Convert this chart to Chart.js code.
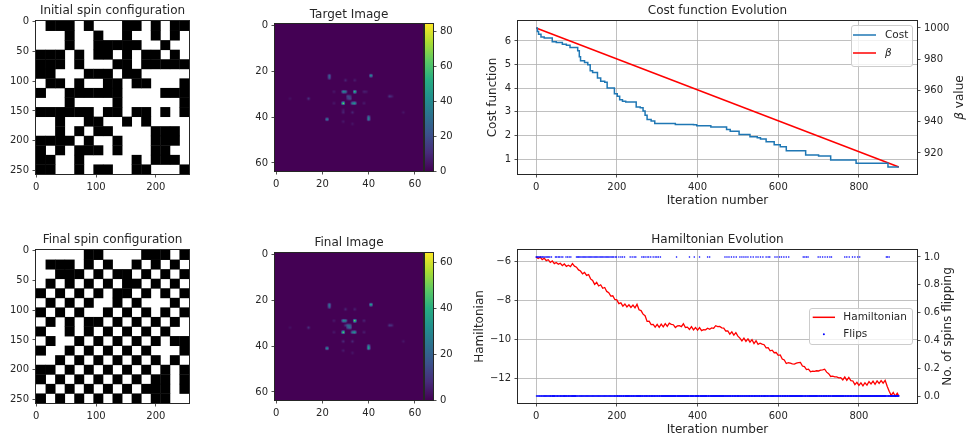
<!DOCTYPE html>
<html>
<head>
<meta charset="UTF-8">
<title>Spin annealing</title>
<script src="https://cdn.jsdelivr.net/npm/chart.js"></script>
<style>
  body { margin: 0; background: #fff; width: 967px; height: 442px; position: relative; overflow: hidden; }
  canvas { position: absolute; }
</style>
</head>
<body>
<canvas id="initSpin" width="200" height="212" style="left:0;top:0"></canvas>
<canvas id="targetImg" width="210" height="212" style="left:240px;top:0"></canvas>
<canvas id="targetBar" width="40" height="212" style="left:420px;top:0"></canvas>
<canvas id="costChart" width="497" height="215" style="left:470px;top:0"></canvas>
<canvas id="finalSpin" width="200" height="217" style="left:0;top:225px"></canvas>
<canvas id="finalImg" width="210" height="217" style="left:240px;top:225px"></canvas>
<canvas id="finalBar" width="40" height="217" style="left:420px;top:225px"></canvas>
<canvas id="hamChart" width="497" height="217" style="left:470px;top:225px"></canvas>

<script>
// ---- spin configurations (16x16 blocks of 16 px, 1 = black) ----
const spinTicksX = [0, 100, 200];
const spinTicksY = [0, 50, 100, 150, 200, 250];
const initialSpins = [
  [0,1,1,1,0,1,0,0,0,1,1,0,1,0,1,1],
  [0,0,0,1,0,0,1,0,0,1,0,0,1,0,1,0],
  [0,0,0,1,0,0,1,1,1,1,1,0,0,1,0,0],
  [1,1,1,0,1,0,1,1,0,1,0,1,1,0,1,0],
  [1,1,1,0,1,0,0,0,1,1,0,1,1,1,1,1],
  [1,1,0,0,0,1,1,1,0,1,1,0,0,0,0,0],
  [0,1,1,0,1,0,0,1,1,0,1,1,0,0,0,1],
  [1,0,0,1,1,1,1,1,1,0,0,0,0,1,1,1],
  [0,0,0,1,0,0,0,0,1,0,0,0,0,0,0,1],
  [1,1,1,1,1,1,0,1,1,0,1,1,0,1,0,1],
  [0,0,1,0,0,1,1,0,0,1,0,1,0,0,0,0],
  [0,0,1,0,1,0,1,1,0,0,0,0,1,1,1,0],
  [1,1,1,1,0,1,0,0,1,0,0,0,1,1,1,0],
  [1,0,1,0,1,1,1,0,1,0,0,0,1,1,0,0],
  [1,1,0,0,1,0,0,0,0,0,1,0,1,1,1,0],
  [1,1,0,0,1,0,1,1,0,0,1,1,0,0,0,1]
];
const finalSpins = [
  [0,0,0,0,0,1,1,0,0,0,0,1,1,1,0,1],
  [0,1,1,1,0,1,0,1,0,0,1,0,1,0,1,0],
  [0,0,1,1,1,0,1,0,1,1,0,1,0,1,0,1],
  [0,1,0,1,0,1,0,1,0,1,1,0,1,0,1,0],
  [1,0,1,0,1,0,1,0,1,1,0,1,0,1,0,1],
  [0,1,0,1,0,1,0,0,1,0,1,0,0,0,1,0],
  [1,0,1,0,1,0,0,1,0,1,0,1,0,1,0,1],
  [0,1,0,1,0,1,1,0,1,0,1,0,1,0,1,0],
  [1,0,0,1,0,1,0,1,0,1,0,1,0,1,0,0],
  [0,1,0,0,1,0,1,0,1,0,1,0,1,0,1,1],
  [1,0,0,1,0,1,0,1,0,1,0,1,0,0,0,1],
  [0,0,1,0,1,0,1,0,1,0,1,0,1,0,1,0],
  [1,1,0,1,0,1,0,1,0,1,0,1,0,1,0,1],
  [1,0,1,0,1,0,1,0,1,0,1,0,1,1,0,1],
  [0,1,0,1,0,1,0,1,0,1,0,1,1,1,0,1],
  [1,0,1,0,1,0,1,0,1,0,1,0,1,1,0,0]
];

// ---- 64x64 images: non-zero pixels (column, row, value) ----
const imgTicks = [0, 20, 40, 60];
const targetSpotX = [29,34,29,30,34,33,41,23,23,22,40,40,31,32,32,31,49,50,14,30,34,38,39,25,25,38,29,29,33,29,33,55,6];
const targetSpotY = [34,29,29,29,34,34,22,22,23,41,40,41,31,32,31,32,31,31,32,24,24,29,29,29,34,34,38,37,38,42,43,38,32];
const targetSpotV = [84,70,46,36,50,38,52,28,24,42,34,40,20,20,14,14,13, 8,12, 9, 7, 8, 6, 6, 6, 7, 9, 6, 9, 6, 5, 5, 4];
const targetBarTicks = [0, 20, 40, 60, 80];

const finalSpotX = [34,29,29,30,34,33,41,23,23,22,40,40,31,32,31,32,30,49,50,14,30,34,38,25,25,38,29,33,29,33,55,6];
const finalSpotY = [29,34,29,29,34,34,22,22,23,41,40,41,31,31,32,32,31,31,31,32,24,24,29,29,34,34,38,38,42,43,38,32];
const finalSpotV = [64,60,36,30,38,28,48,26,22,38,30,40,22,18,18,24,10,10, 8, 9, 7, 6, 7, 5, 5, 6, 8, 7, 5, 4, 4, 3];
const finalBarTicks = [0, 20, 40, 60];

// ---- cost function (stepped) and beta ----
const iterTicks = [0, 200, 400, 600, 800];
const costTicks = [1, 2, 3, 4, 5, 6];
const betaTicks = [920, 940, 960, 980, 1000];
const costIter  = [0, 3, 6, 12, 20, 40, 50, 65, 75, 84, 103, 107, 110, 120, 128, 134, 140, 152, 160, 170, 176, 194, 201, 207, 214, 222, 248, 258, 265, 270, 275, 285, 294, 345, 390, 398, 433, 472, 481, 503, 530, 548, 556, 570, 590, 605, 620, 668, 700, 730, 793, 872, 899];
const costValue = [6.55, 6.40, 6.28, 6.17, 6.12, 5.97, 5.93, 5.86, 5.82, 5.72, 5.58, 5.33, 5.16, 5.09, 4.99, 4.74, 4.66, 4.43, 4.29, 4.25, 4.01, 3.76, 3.66, 3.51, 3.45, 3.41, 3.20, 3.17, 3.03, 2.85, 2.67, 2.61, 2.50, 2.46, 2.45, 2.41, 2.36, 2.25, 2.18, 2.04, 1.94, 1.90, 1.85, 1.73, 1.60, 1.52, 1.35, 1.17, 1.13, 0.96, 0.82, 0.66, 0.66];
const betaIter  = [0, 899];
const betaValue = [1000, 911];

// ---- Hamiltonian (every 5 iterations, last at 899) and spin flips ----
const hamTicks = [-12, -10, -8, -6];
const flipTicks = [0, 0.2, 0.4, 0.6, 0.8, 1.0];
const hamValue = [
  -5.78,-5.86,-5.79,-5.92,-5.84,-5.97,-5.92,-6.06,-5.98,-6.12,-6.06,-6.15,-6.10,-6.22,-6.14,-6.26,-6.20,-6.27,-6.12,-6.25,
  -6.30,-6.44,-6.50,-6.64,-6.57,-6.72,-6.68,-6.90,-6.98,-7.18,-7.08,-7.26,-7.20,-7.38,-7.34,-7.54,-7.60,-7.78,-7.76,-7.95,
  -7.97,-8.16,-8.12,-8.29,-8.18,-8.33,-8.22,-8.36,-8.24,-8.38,-8.20,-8.48,-8.52,-8.70,-8.78,-9.07,-9.06,-9.23,-9.22,-9.36,
  -9.22,-9.37,-9.21,-9.35,-9.18,-9.32,-9.16,-9.22,-9.24,-9.38,-9.30,-9.29,-9.34,-9.19,-9.38,-9.36,-9.48,-9.34,-9.50,-9.38,
  -9.52,-9.39,-9.54,-9.49,-9.50,-9.42,-9.47,-9.40,-9.42,-9.29,-9.34,-9.33,-9.40,-9.41,-9.56,-9.56,-9.72,-9.60,-9.77,-9.64,
  -9.82,-9.92,-10.06,-9.92,-10.09,-9.96,-10.13,-10.00,-10.20,-10.06,-10.24,-10.18,-10.23,-10.26,-10.42,-10.41,-10.57,-10.54,-10.67,-10.66,
  -10.80,-10.78,-10.99,-11.04,-11.22,-11.18,-11.20,-11.24,-11.25,-11.20,-11.17,-11.16,-11.35,-11.38,-11.53,-11.51,-11.64,-11.61,-11.62,-11.59,
  -11.60,-11.56,-11.54,-11.51,-11.66,-11.74,-11.88,-11.86,-11.90,-11.90,-11.95,-11.94,-12.06,-11.91,-12.08,-11.93,-12.09,-12.11,-12.30,-12.18,
  -12.34,-12.21,-12.36,-12.20,-12.32,-12.14,-12.26,-12.12,-12.28,-12.11,-12.24,-12.09,-12.22,-12.08,-12.38,-12.64,-12.84,-12.70,-12.88,-12.74,
  -12.88
];
const hamIter = hamValue.map((v, i) => Math.min(i * 5, 899));
const flipIters = [
  0,2,4,6,9,11,14,16,19,22,25,28,31,34,38,48,51,55,58,62,66,74,78,82,86,
  100,103,105,108,111,114,117,120,123,126,129,132,135,138,141,144,147,150,153,156,159,162,165,168,171,174,177,180,183,186,189,192,196,199,
  205,210,214,219,233,238,243,247,262,266,270,275,279,284,290,295,299,303,308,348,380,392,405,425,430,
  468,473,478,484,490,496,505,510,515,520,525,532,538,545,550,556,562,570,575,579,592,597,603,608,614,620,626,
  662,666,670,674,699,704,710,716,722,728,732,765,770,776,784,790,797,802,868,871,875
];
const iterCount = 900;

// ---------------------------------------------------------------
const INK = '#262626';
const FONT = '"DejaVu Sans", sans-serif';
Chart.defaults.font.family = FONT;
Chart.defaults.font.size = 10;
Chart.defaults.color = INK;
Chart.defaults.animation = false;
Chart.defaults.events = [];
Chart.defaults.plugins.legend.display = false;
Chart.defaults.plugins.tooltip.enabled = false;

const VIRIDIS = ['#440154', '#472c7a', '#3b518b', '#2c718e', '#21908d', '#27ad81', '#5cc863', '#aadc32', '#fde725'];
const VIRIDIS_RGB = VIRIDIS.map(h => [1, 3, 5].map(i => parseInt(h.substr(i, 2), 16)));
function viridisRgb(t) {
  t = Math.min(1, Math.max(0, t));
  const f = t * (VIRIDIS_RGB.length - 1);
  const i = Math.min(Math.floor(f), VIRIDIS_RGB.length - 2), u = f - i;
  const a = VIRIDIS_RGB[i], b = VIRIDIS_RGB[i + 1];
  return a.map((c, k) => Math.round(c + (b[k] - c) * u));
}

function tickText(v) {
  const s = String(Math.abs(v));
  return v < 0 ? '\u2212' + s : s;
}

function linAxis(o) {
  return {
    type: 'linear', position: o.pos, min: o.min, max: o.max, reverse: !!o.reverse, bounds: 'data',
    afterBuildTicks: ax => { ax.ticks = o.ticks.map(v => ({ value: v })); },
    afterFit: ax => { if (o.pos === 'left' || o.pos === 'right') ax.width = o.size; else ax.height = o.size; },
    grid: { drawOnChartArea: !!o.grid, color: '#b0b0b0', lineWidth: 0.8, drawTicks: true, tickLength: 3.5, tickColor: INK, tickWidth: 0.8 },
    border: { display: false },
    ticks: { padding: 3.5, autoSkip: false, maxRotation: 0, minRotation: 0, color: INK, font: { size: 10 }, callback: o.fmt || tickText },
    title: o.title ? { display: true, text: o.title, color: INK, font: { size: 12 }, padding: o.titlePad } : { display: false }
  };
}
function titleOpt(text, top, bottom) {
  return { display: true, text: text, color: INK, font: { size: 12, weight: 'normal' }, padding: { top: top, bottom: bottom }, fullSize: false };
}

// black/white spin blocks, each drawn through the chart scales
const cellPlugin = {
  id: 'cells',
  beforeDatasetsDraw(chart, args, opts) {
    if (!opts.size) return;
    const { ctx, chartArea: a } = chart;
    const xs = chart.scales.x, ys = chart.scales.y, h = opts.size / 2;
    ctx.save();
    ctx.beginPath(); ctx.rect(a.left, a.top, a.width, a.height); ctx.clip();
    ctx.fillStyle = '#ffffff';
    ctx.fillRect(a.left, a.top, a.width, a.height);
    ctx.fillStyle = '#000000';
    chart.data.datasets[0].data.forEach(p => {
      if (!p.v) return;
      const x0 = xs.getPixelForValue(p.x - h), x1 = xs.getPixelForValue(p.x + h);
      const y0 = ys.getPixelForValue(p.y - h), y1 = ys.getPixelForValue(p.y + h);
      ctx.fillRect(Math.min(x0, x1), Math.min(y0, y1), Math.abs(x1 - x0) + 0.4, Math.abs(y1 - y0) + 0.4);
    });
    ctx.restore();
  }
};

// 64x64 image: every screen pixel maps back through the scales, bilinear like imshow
const heatPlugin = {
  id: 'heat',
  beforeDatasetsDraw(chart, args, opts) {
    if (!opts.n) return;
    const { ctx, chartArea: a } = chart;
    const xs = chart.scales.x, ys = chart.scales.y, n = opts.n;
    const grid = new Float32Array(n * n);
    chart.data.datasets[0].data.forEach(p => { grid[p.y * n + p.x] = p.v; });
    const L = Math.round(a.left), T = Math.round(a.top);
    const W = Math.round(a.right) - L, H = Math.round(a.bottom) - T;
    const img = ctx.createImageData(W, H);
    const at = (c, r) => grid[Math.min(n - 1, Math.max(0, r)) * n + Math.min(n - 1, Math.max(0, c))];
    for (let py = 0; py < H; py++) {
      const dy = ys.getValueForPixel(T + py + 0.5);
      const r0 = Math.floor(dy), fy = dy - r0;
      for (let px = 0; px < W; px++) {
        const dx = xs.getValueForPixel(L + px + 0.5);
        const c0 = Math.floor(dx), fx = dx - c0;
        const v = (at(c0, r0) * (1 - fx) + at(c0 + 1, r0) * fx) * (1 - fy) +
                  (at(c0, r0 + 1) * (1 - fx) + at(c0 + 1, r0 + 1) * fx) * fy;
        const rgb = viridisRgb(v / opts.vmax);
        const k = (py * W + px) * 4;
        img.data[k] = rgb[0]; img.data[k + 1] = rgb[1]; img.data[k + 2] = rgb[2]; img.data[k + 3] = 255;
      }
    }
    ctx.putImageData(img, L, T);
  }
};

const colorbarPlugin = {
  id: 'colorbar',
  beforeDatasetsDraw(chart, args, opts) {
    if (!opts.vmax) return;
    const { ctx, chartArea: a } = chart;
    const ys = chart.scales.y;
    const g = ctx.createLinearGradient(0, ys.getPixelForValue(0), 0, ys.getPixelForValue(opts.vmax));
    VIRIDIS.forEach((c, i) => g.addColorStop(i / (VIRIDIS.length - 1), c));
    ctx.fillStyle = g;
    ctx.fillRect(a.left, a.top, a.width, a.height);
  }
};

const framePlugin = {
  id: 'frame',
  afterDraw(chart) {
    const a = chart.chartArea, ctx = chart.ctx;
    ctx.save();
    ctx.strokeStyle = INK; ctx.lineWidth = 1;
    ctx.strokeRect(Math.round(a.left) - 0.5, Math.round(a.top) - 0.5, Math.round(a.width) + 1, Math.round(a.height) + 1);
    ctx.restore();
  }
};

const boxLegendPlugin = {
  id: 'boxLegend',
  afterDatasetsDraw(chart, args, o) {
    if (!o.items) return;
    const ctx = chart.ctx;
    ctx.save();
    ctx.beginPath();
    ctx.roundRect(o.x + 0.5, o.y + 0.5, o.w, o.h, 2.5);
    ctx.fillStyle = 'rgba(255,255,255,0.8)'; ctx.fill();
    ctx.strokeStyle = '#cccccc'; ctx.lineWidth = 1; ctx.stroke();
    o.items.forEach((it, i) => {
      const ds = chart.data.datasets[it.dataset];
      const y = o.rows[i];
      if (it.kind === 'dot') {
        ctx.fillStyle = ds.backgroundColor;
        ctx.beginPath(); ctx.arc((o.handle[0] + o.handle[1]) / 2, y, 1, 0, 2 * Math.PI); ctx.fill();
      } else {
        ctx.strokeStyle = ds.borderColor; ctx.lineWidth = 1.5;
        ctx.beginPath(); ctx.moveTo(o.handle[0], y); ctx.lineTo(o.handle[1], y); ctx.stroke();
      }
      ctx.fillStyle = INK;
      ctx.font = (it.italic ? 'italic ' : '') + '10.5px ' + FONT;
      ctx.textBaseline = 'middle'; ctx.textAlign = 'left';
      ctx.fillText(ds.label, o.textX, y);
    });
    ctx.restore();
  }
};

// right-hand axis label, reading bottom to top like matplotlib
const sideTitlePlugin = {
  id: 'sideTitle',
  afterDraw(chart, args, o) {
    if (!o.parts) return;
    const s = chart.scales[o.axis], ctx = chart.ctx, a = chart.chartArea;
    ctx.save();
    ctx.translate(s.right - o.inset, (a.top + a.bottom) / 2);
    ctx.rotate(-Math.PI / 2);
    ctx.textBaseline = 'middle'; ctx.textAlign = 'left'; ctx.fillStyle = INK;
    const fonts = o.parts.map(p => (p.italic ? 'italic ' : '') + '12px ' + FONT);
    let total = 0;
    const widths = o.parts.map((p, i) => { ctx.font = fonts[i]; const w = ctx.measureText(p.text).width; total += w; return w; });
    let x = -total / 2;
    o.parts.forEach((p, i) => { ctx.font = fonts[i]; ctx.fillText(p.text, x, 0); x += widths[i]; });
    ctx.restore();
  }
};

Chart.register(cellPlugin, heatPlugin, colorbarPlugin, framePlugin, boxLegendPlugin, sideTitlePlugin);

function spinPoints(grid) {
  const pts = [];
  grid.forEach((row, r) => row.forEach((v, c) => pts.push({ x: c * 16 + 7.5, y: r * 16 + 7.5, v: v })));
  return pts;
}
function imagePoints(xs, ys, vs) {
  return xs.map((c, i) => ({ x: c, y: ys[i], v: vs[i] }));
}

function spinChart(id, title, grid, pad, tPad) {
  new Chart(document.getElementById(id), {
    type: 'scatter',
    data: { datasets: [{ data: spinPoints(grid), pointRadius: 0 }] },
    options: {
      responsive: false,
      layout: { padding: pad },
      scales: {
        x: linAxis({ pos: 'bottom', min: -0.5, max: 255.5, ticks: spinTicksX, size: 20 }),
        y: linAxis({ pos: 'left', min: -0.5, max: 255.5, reverse: true, ticks: spinTicksY, size: 36 })
      },
      plugins: { title: titleOpt(title, tPad[0], tPad[1]), cells: { size: 16 } }
    }
  });
}
function imageChart(id, title, xs, ys, vs, pad, tPad) {
  new Chart(document.getElementById(id), {
    type: 'scatter',
    data: { datasets: [{ data: imagePoints(xs, ys, vs), pointRadius: 0 }] },
    options: {
      responsive: false,
      layout: { padding: pad },
      scales: {
        x: linAxis({ pos: 'bottom', min: -0.5, max: 63.5, ticks: imgTicks, size: 20 }),
        y: linAxis({ pos: 'left', min: -0.5, max: 63.5, reverse: true, ticks: imgTicks, size: 35 })
      },
      plugins: { title: titleOpt(title, tPad[0], tPad[1]), heat: { n: 64, vmax: Math.max(...vs) } }
    }
  });
}
function colorbarChart(id, vmax, ticks, pad) {
  new Chart(document.getElementById(id), {
    type: 'scatter',
    data: { datasets: [] },
    options: {
      responsive: false,
      layout: { padding: pad },
      scales: {
        x: { type: 'linear', display: false, min: 0, max: 1 },
        y: linAxis({ pos: 'right', min: 0, max: vmax, ticks: ticks, size: 27 })
      },
      plugins: { colorbar: { vmax: vmax } }
    }
  });
}

spinChart('initSpin', 'Initial spin configuration', initialSpins, { left: 0, right: 11, top: 0, bottom: 18 }, [3.8, 2.8]);
spinChart('finalSpin', 'Final spin configuration', finalSpins, { left: 0, right: 11, top: 0, bottom: 19 }, [7.8, 2.8]);

imageChart('targetImg', 'Target Image', targetSpotX, targetSpotY, targetSpotV, { left: 0, right: 27, top: 0, bottom: 21 }, [7.8, 1.8]);
imageChart('finalImg', 'Final Image', finalSpotX, finalSpotY, finalSpotV, { left: 0, right: 27, top: 0, bottom: 22 }, [11.1, 2.5]);
colorbarChart('targetBar', Math.max(...targetSpotV), targetBarTicks, { left: 5, right: 0, top: 24, bottom: 41 });
colorbarChart('finalBar', Math.max(...finalSpotV), finalBarTicks, { left: 5, right: 0, top: 28, bottom: 42 });

// cost function evolution
new Chart(document.getElementById('costChart'), {
  type: 'line',
  data: {
    datasets: [
      { label: 'Cost', data: costIter.map((x, i) => ({ x: x, y: costValue[i] })), yAxisID: 'y',
        borderColor: '#1f77b4', borderWidth: 1.5, pointRadius: 0, stepped: true, fill: false },
      { label: '\u03b2', data: betaIter.map((x, i) => ({ x: x, y: betaValue[i] })), yAxisID: 'y1',
        borderColor: '#ff0000', borderWidth: 1.5, pointRadius: 0, fill: false }
    ]
  },
  options: {
    responsive: false,
    layout: { padding: 0 },
    scales: {
      x: linAxis({ pos: 'bottom', min: -44.95, max: 943.95, ticks: iterTicks, size: 41, grid: true,
        title: 'Iteration number', titlePad: { top: 0, bottom: 7.3 } }),
      y: linAxis({ pos: 'left', min: 0.3655, max: 6.8445, ticks: costTicks, size: 48, grid: true,
        title: 'Cost function', titlePad: { top: 15.8, bottom: 0 } }),
      y1: linAxis({ pos: 'right', min: 906.55, max: 1004.45, ticks: betaTicks, size: 50 })
    },
    plugins: {
      title: titleOpt('Cost function Evolution', 3.8, 2.8),
      boxLegend: { x: 381, y: 25, w: 61, h: 41, rows: [35, 53], handle: [383, 406], textX: 415,
        items: [{ dataset: 0, kind: 'line' }, { dataset: 1, kind: 'line', italic: true }] },
      sideTitle: { axis: 'y1', inset: 7, parts: [{ text: '\u03b2', italic: true }, { text: ' value' }] }
    }
  }
});

// Hamiltonian evolution
const flipSet = new Set(flipIters);
new Chart(document.getElementById('hamChart'), {
  type: 'line',
  data: {
    datasets: [
      { label: 'Flips', data: Array.from({ length: iterCount }, (_, i) => ({ x: i, y: flipSet.has(i) ? 1 : 0 })), yAxisID: 'y1',
        showLine: false, pointRadius: 0.8, pointBorderWidth: 0, backgroundColor: '#0000ff', borderColor: '#0000ff' },
      { label: 'Hamiltonian', data: hamIter.map((x, i) => ({ x: x, y: hamValue[i] })), yAxisID: 'y',
        borderColor: '#ff0000', borderWidth: 1.3, pointRadius: 0, fill: false }
    ]
  },
  options: {
    responsive: false,
    layout: { padding: 0 },
    scales: {
      x: linAxis({ pos: 'bottom', min: -44.95, max: 943.95, ticks: iterTicks, size: 39, grid: true,
        title: 'Iteration number', titlePad: { top: 0, bottom: 5.3 } }),
      y: linAxis({ pos: 'left', min: -13.235, max: -5.425, ticks: hamTicks, size: 48, grid: true,
        title: 'Hamiltonian', titlePad: { top: 2.8, bottom: 0 } }),
      y1: linAxis({ pos: 'right', min: -0.05, max: 1.05, ticks: flipTicks, size: 50, fmt: v => v.toFixed(1) })
    },
    plugins: {
      title: titleOpt('Hamiltonian Evolution', 7.8, 2.8),
      boxLegend: { x: 339, y: 83, w: 103, h: 36, rows: [92.3, 109.3], handle: [342.7, 365], textX: 373.3,
        items: [{ dataset: 1, kind: 'line' }, { dataset: 0, kind: 'dot' }] },
      sideTitle: { axis: 'y1', inset: 19, parts: [{ text: 'No. of spins flipping' }] }
    }
  }
});
</script>
</body>
</html>
